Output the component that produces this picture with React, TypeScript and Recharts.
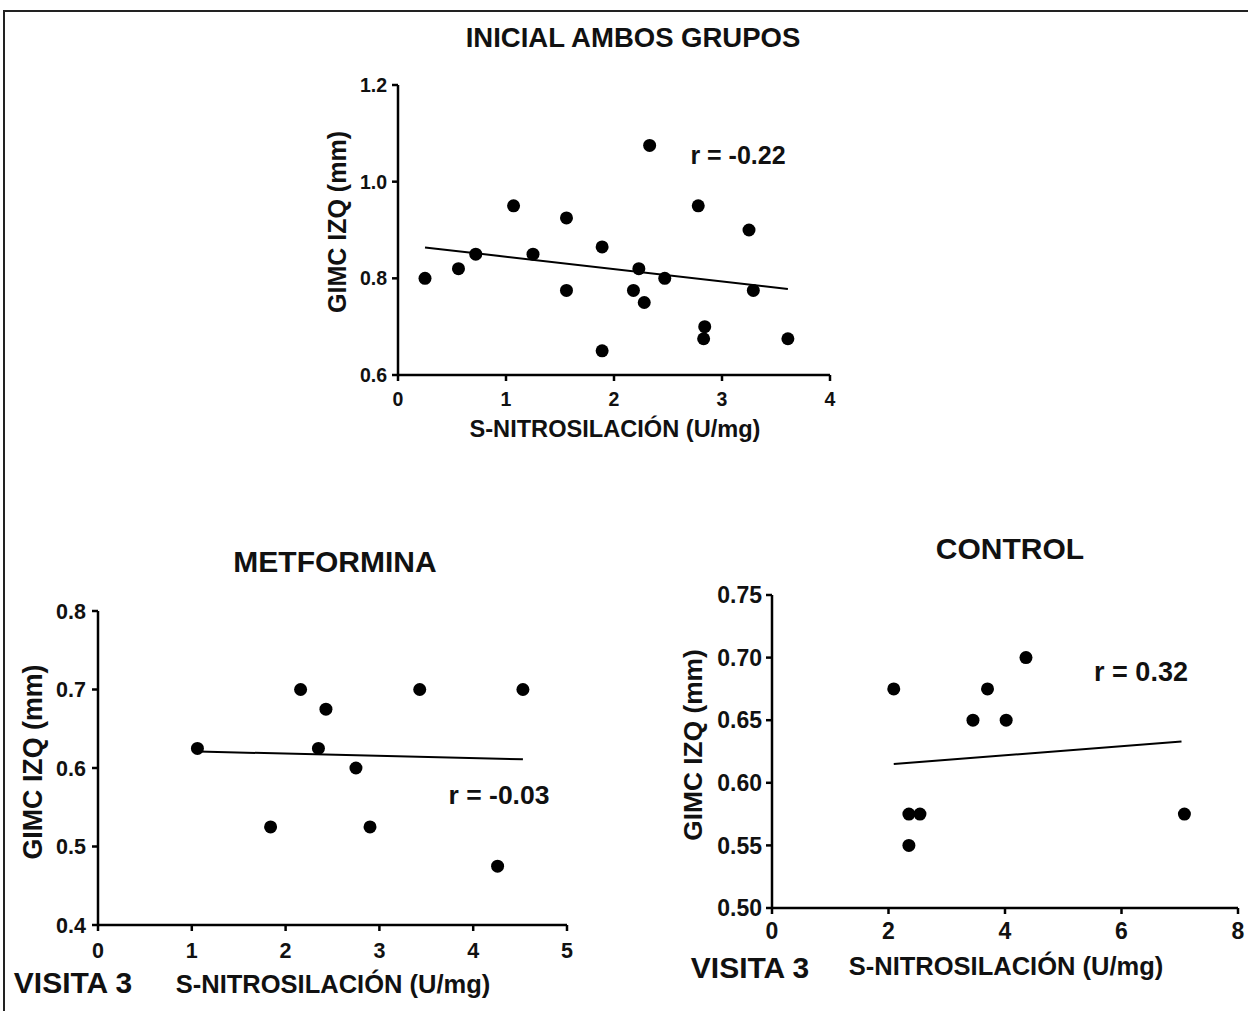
import React from 'react';
import { ScatterChart, Scatter, XAxis, YAxis, ReferenceLine } from 'recharts';

const FONT = '"Liberation Sans", Arial, sans-serif';

// Inicial, ambos grupos
const inicialX = [0.25, 0.56, 0.72, 1.07, 1.25, 1.56, 1.56, 1.89, 1.89, 2.33, 2.18, 2.23, 2.28, 2.47, 2.78, 2.84, 2.83, 3.25, 3.29, 3.61];
const inicialY = [0.8, 0.82, 0.85, 0.95, 0.85, 0.925, 0.775, 0.865, 0.65, 1.075, 0.775, 0.82, 0.75, 0.8, 0.95, 0.7, 0.675, 0.9, 0.775, 0.675];
const inicialFitX = [0.25, 3.61];
const inicialFitY = [0.864, 0.778];
const inicialXTicks = [0, 1, 2, 3, 4];
const inicialYTicks = [0.6, 0.8, 1.0, 1.2];

// Visita 3, metformina
const metX = [1.06, 1.84, 2.16, 2.43, 2.35, 2.75, 2.9, 3.43, 4.26, 4.53];
const metY = [0.625, 0.525, 0.7, 0.675, 0.625, 0.6, 0.525, 0.7, 0.475, 0.7];
const metFitX = [1.07, 4.53];
const metFitY = [0.621, 0.611];
const metXTicks = [0, 1, 2, 3, 4, 5];
const metYTicks = [0.4, 0.5, 0.6, 0.7, 0.8];

// Visita 3, control
const ctlX = [2.09, 2.35, 2.35, 2.54, 3.45, 3.7, 4.02, 4.36, 7.08];
const ctlY = [0.675, 0.55, 0.575, 0.575, 0.65, 0.675, 0.65, 0.7, 0.575];
const ctlFitX = [2.09, 7.03];
const ctlFitY = [0.615, 0.633];
const ctlXTicks = [0, 2, 4, 6, 8];
const ctlYTicks = [0.5, 0.55, 0.6, 0.65, 0.7, 0.75];

const zip = (xs: number[], ys: number[]) => xs.map((x, i) => ({ x, y: ys[i] }));

const Dot = (props: any) => <circle cx={props.cx} cy={props.cy} r={6.5} fill="#000" />;

interface PanelProps {
  plot: [number, number, number, number]; // left, top, right, bottom of plotting area
  xs: number[];
  ys: number[];
  fitX: number[];
  fitY: number[];
  xTicks: number[];
  yTicks: number[];
  yDigits: number;
  fontSize: number;
  xMargin: number;
  yMargin: number;
}

const Y_W = 100;
const X_H = 60;
const PAD = 20;

const Panel: React.FC<PanelProps> = ({
  plot,
  xs,
  ys,
  fitX,
  fitY,
  xTicks,
  yTicks,
  yDigits,
  fontSize,
  xMargin,
  yMargin,
}) => {
  const [pl, pt, pr, pb] = plot;
  const left = pl - Y_W;
  const top = pt - PAD;
  const width = pr - left + PAD;
  const height = pb - top + X_H;
  const tick = { fill: '#111', fontSize, fontWeight: 'bold', fontFamily: FONT };
  const line = { stroke: '#000', strokeWidth: 2.5 };
  return (
    <div style={{ position: 'absolute', left, top }}>
      <ScatterChart width={width} height={height} margin={{ top: PAD, right: PAD, left: 0, bottom: 0 }}>
        <XAxis
          type="number"
          dataKey="x"
          domain={[xTicks[0], xTicks[xTicks.length - 1]]}
          ticks={xTicks}
          height={X_H}
          tick={tick}
          tickSize={6}
          tickMargin={xMargin}
          axisLine={line}
          tickLine={line}
        />
        <YAxis
          type="number"
          dataKey="y"
          domain={[yTicks[0], yTicks[yTicks.length - 1]]}
          ticks={yTicks}
          width={Y_W}
          tick={tick}
          tickSize={6}
          tickMargin={yMargin}
          tickFormatter={(v: number) => v.toFixed(yDigits)}
          axisLine={line}
          tickLine={line}
        />
        <ReferenceLine
          segment={[
            { x: fitX[0], y: fitY[0] },
            { x: fitX[1], y: fitY[1] },
          ]}
          stroke="#000"
          strokeWidth={2}
          ifOverflow="visible"
        />
        <Scatter data={zip(xs, ys)} shape={Dot} isAnimationActive={false} />
      </ScatterChart>
    </div>
  );
};

const Label: React.FC<{ x: number; y: number; size: number; rotate?: boolean; children: React.ReactNode }> = ({
  x,
  y,
  size,
  rotate,
  children,
}) => (
  <div
    style={{
      position: 'absolute',
      left: x,
      top: y,
      transform: `translate(-50%, -50%)${rotate ? ' rotate(-90deg)' : ''}`,
      whiteSpace: 'nowrap',
      fontFamily: FONT,
      fontWeight: 'bold',
      fontSize: size,
      lineHeight: 1,
      color: '#111',
    }}
  >
    {children}
  </div>
);

export default function App() {
  return (
    <div
      style={{
        position: 'absolute',
        left: 0,
        top: 0,
        width: 1248,
        height: 1011,
        overflow: 'hidden',
        background: '#fff',
      }}
    >
      <div
        style={{
          position: 'absolute',
          left: 3,
          top: 10,
          width: 1300,
          height: 1100,
          borderTop: '2px solid #222',
          borderLeft: '2px solid #222',
        }}
      />

      <Label x={633} y={38} size={27.5}>INICIAL AMBOS GRUPOS</Label>
      <Panel
        plot={[398, 85, 830, 375]}
        xs={inicialX}
        ys={inicialY}
        fitX={inicialFitX}
        fitY={inicialFitY}
        xTicks={inicialXTicks}
        yTicks={inicialYTicks}
        yDigits={1}
        fontSize={19.5}
        xMargin={11}
        yMargin={5}
      />
      <Label x={337} y={222} size={25} rotate>GIMC IZQ (mm)</Label>
      <Label x={615} y={430} size={23.6}>S-NITROSILACIÓN (U/mg)</Label>
      <Label x={738} y={155} size={25}>r = -0.22</Label>

      <Label x={335} y={562} size={30}>METFORMINA</Label>
      <Panel
        plot={[98, 611, 567, 925]}
        xs={metX}
        ys={metY}
        fitX={metFitX}
        fitY={metFitY}
        xTicks={metXTicks}
        yTicks={metYTicks}
        yDigits={1}
        fontSize={21.5}
        xMargin={12}
        yMargin={6}
      />
      <Label x={33} y={762} size={26.8} rotate>GIMC IZQ (mm)</Label>
      <Label x={499} y={795} size={26.5}>r = -0.03</Label>
      <Label x={73} y={983} size={30}>VISITA 3</Label>
      <Label x={333} y={985} size={25.5}>S-NITROSILACIÓN (U/mg)</Label>

      <Label x={1010} y={549} size={30}>CONTROL</Label>
      <Panel
        plot={[772, 595, 1238, 908]}
        xs={ctlX}
        ys={ctlY}
        fitX={ctlFitX}
        fitY={ctlFitY}
        xTicks={ctlXTicks}
        yTicks={ctlYTicks}
        yDigits={2}
        fontSize={23}
        xMargin={9}
        yMargin={4}
      />
      <Label x={693} y={745} size={26.3} rotate>GIMC IZQ (mm)</Label>
      <Label x={1141} y={672} size={27}>r = 0.32</Label>
      <Label x={750} y={968} size={30}>VISITA 3</Label>
      <Label x={1006} y={967} size={25.5}>S-NITROSILACIÓN (U/mg)</Label>
    </div>
  );
}
